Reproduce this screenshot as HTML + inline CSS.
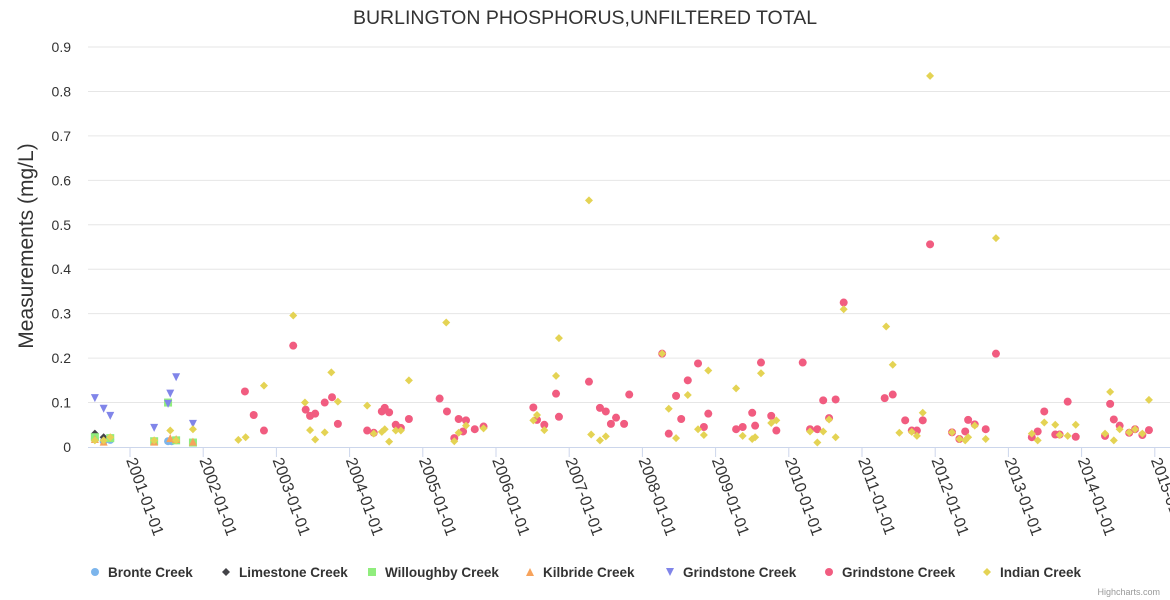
<!DOCTYPE html>
<html><head><meta charset="utf-8"><style>
html,body{margin:0;padding:0;background:#fff;}
svg{display:block;font-family:"Liberation Sans",sans-serif;}
</style></head><body>
<svg id="chart" width="1170" height="600" xmlns="http://www.w3.org/2000/svg">
<text x="585" y="24" text-anchor="middle" font-size="19.5" fill="#333">BURLINGTON PHOSPHORUS,UNFILTERED TOTAL</text>
<text transform="translate(33,246) rotate(-90)" text-anchor="middle" font-size="21" fill="#333">Measurements (mg/L)</text>
<g id="grid"></g><g id="xaxis"></g><g id="marks"></g><g id="legend"></g>
<text x="1160" y="595" text-anchor="end" font-size="9" fill="#999">Highcharts.com</text>
</svg>
<script>
const yTicks=[0,0.1,0.2,0.3,0.4,0.5,0.6,0.7,0.8,0.9];
const yTickLabels=["0","0.1","0.2","0.3","0.4","0.5","0.6","0.7","0.8","0.9"];
const xTickYears=[2001,2002,2003,2004,2005,2006,2007,2008,2009,2010,2011,2012,2013,2014,2015];
const xTickLabels=["2001-01-01","2002-01-01","2003-01-01","2004-01-01","2005-01-01","2006-01-01","2007-01-01","2008-01-01","2009-01-01","2010-01-01","2011-01-01","2012-01-01","2013-01-01","2014-01-01","2015-01-01"];
const seriesNames=["Bronte Creek","Limestone Creek","Willoughby Creek","Kilbride Creek","Grindstone Creek","Grindstone Creek","Indian Creek"];
const bronte=[[2000.52,0.018],[2000.64,0.013],[2000.73,0.016],[2001.52,0.013],[2001.57,0.013]];
const limestone=[[2000.52,0.03],[2000.64,0.022]];
const willoughby=[[2000.52,0.022],[2000.73,0.02],[2001.33,0.013],[2001.52,0.1],[2001.63,0.015],[2001.86,0.01]];
const kilbride=[[2000.52,0.018],[2000.64,0.012],[2001.33,0.012],[2001.55,0.02],[2001.63,0.018],[2001.86,0.012]];
const grindTri=[[2000.52,0.11],[2000.64,0.086],[2000.73,0.07],[2001.33,0.043],[2001.52,0.097],[2001.55,0.12],[2001.63,0.157],[2001.86,0.052]];
const grindCircle=[[2002.57,0.125],[2002.69,0.072],[2002.83,0.037],[2003.23,0.228],[2003.40,0.084],[2003.46,0.07],[2003.53,0.075],[2003.66,0.1],[2003.76,0.112],[2003.84,0.052],[2004.24,0.037],[2004.33,0.032],[2004.44,0.08],[2004.48,0.088],[2004.54,0.078],[2004.63,0.05],[2004.70,0.043],[2004.81,0.063],[2005.23,0.109],[2005.33,0.08],[2005.43,0.02],[2005.49,0.063],[2005.55,0.035],[2005.59,0.06],[2005.71,0.04],[2005.83,0.046],[2006.51,0.089],[2006.56,0.061],[2006.66,0.05],[2006.82,0.12],[2006.86,0.068],[2007.27,0.147],[2007.42,0.088],[2007.50,0.08],[2007.57,0.052],[2007.64,0.066],[2007.75,0.052],[2007.82,0.118],[2008.27,0.21],[2008.36,0.03],[2008.46,0.115],[2008.53,0.063],[2008.62,0.15],[2008.76,0.188],[2008.84,0.045],[2008.90,0.075],[2009.28,0.04],[2009.37,0.045],[2009.50,0.077],[2009.54,0.048],[2009.62,0.19],[2009.76,0.07],[2009.83,0.037],[2010.19,0.19],[2010.29,0.04],[2010.39,0.04],[2010.47,0.105],[2010.55,0.065],[2010.64,0.107],[2010.75,0.325],[2011.31,0.11],[2011.42,0.118],[2011.59,0.06],[2011.68,0.037],[2011.75,0.037],[2011.83,0.06],[2011.93,0.456],[2012.23,0.033],[2012.33,0.018],[2012.41,0.035],[2012.45,0.061],[2012.54,0.051],[2012.69,0.04],[2012.83,0.21],[2013.32,0.022],[2013.40,0.035],[2013.49,0.08],[2013.64,0.028],[2013.70,0.028],[2013.81,0.102],[2013.92,0.023],[2014.32,0.025],[2014.39,0.097],[2014.44,0.062],[2014.52,0.048],[2014.65,0.032],[2014.73,0.04],[2014.83,0.027],[2014.92,0.038]];
const indian=[[2000.52,0.015],[2000.64,0.015],[2000.73,0.022],[2001.33,0.015],[2001.55,0.037],[2001.63,0.015],[2001.86,0.04],[2002.48,0.016],[2002.58,0.022],[2002.83,0.138],[2003.23,0.296],[2003.39,0.1],[2003.46,0.038],[2003.53,0.017],[2003.66,0.033],[2003.75,0.168],[2003.84,0.102],[2004.24,0.093],[2004.33,0.03],[2004.44,0.034],[2004.48,0.04],[2004.54,0.012],[2004.63,0.037],[2004.70,0.037],[2004.81,0.15],[2005.32,0.28],[2005.43,0.013],[2005.49,0.032],[2005.59,0.048],[2005.83,0.042],[2006.51,0.06],[2006.56,0.072],[2006.66,0.038],[2006.82,0.16],[2006.86,0.245],[2007.27,0.555],[2007.30,0.028],[2007.42,0.015],[2007.50,0.024],[2008.27,0.21],[2008.36,0.086],[2008.46,0.02],[2008.62,0.117],[2008.76,0.04],[2008.84,0.027],[2008.90,0.172],[2009.28,0.132],[2009.37,0.025],[2009.50,0.018],[2009.54,0.022],[2009.62,0.166],[2009.76,0.054],[2009.83,0.06],[2010.29,0.035],[2010.39,0.01],[2010.47,0.035],[2010.55,0.062],[2010.64,0.022],[2010.75,0.31],[2011.33,0.271],[2011.42,0.185],[2011.51,0.032],[2011.68,0.034],[2011.75,0.025],[2011.83,0.077],[2011.93,0.835],[2012.23,0.033],[2012.33,0.018],[2012.41,0.015],[2012.45,0.022],[2012.54,0.048],[2012.69,0.018],[2012.83,0.47],[2013.32,0.03],[2013.40,0.015],[2013.49,0.055],[2013.64,0.05],[2013.70,0.027],[2013.81,0.025],[2013.92,0.05],[2014.32,0.03],[2014.39,0.124],[2014.44,0.015],[2014.52,0.04],[2014.65,0.033],[2014.73,0.04],[2014.83,0.03],[2014.92,0.106]];

const NS="http://www.w3.org/2000/svg";
const X0=88,X1=1170,Y0=447,Y1=47;
function xs(yr){return 130+(yr-2001)*73.2;}
function ys(v){return Y0-v/0.9*(Y0-Y1);}
function mk(tag,attrs,parent){const e=document.createElementNS(NS,tag);for(const k in attrs)e.setAttribute(k,attrs[k]);parent.appendChild(e);return e;}
const grid=document.getElementById('grid'),xa=document.getElementById('xaxis'),marks=document.getElementById('marks'),leg=document.getElementById('legend');
yTicks.forEach((v,i)=>{
  if(i>0){const l=mk('line',{x1:X0,x2:X1,y1:ys(v),y2:ys(v),stroke:'#e6e6e6','stroke-width':1},grid);
  
  }
  const t=mk('text',{x:71,y:ys(v)+5,'text-anchor':'end','font-size':14,fill:'#333'},grid);
  t.textContent=yTickLabels[i];
  
  
});
const axl=mk('line',{x1:X0,x2:X1,y1:Y0+0.5,y2:Y0+0.5,stroke:'#ccd6eb','stroke-width':1},xa);


xTickYears.forEach((yr,i)=>{
  const x=xs(yr);
  const tk=mk('line',{x1:x,x2:x,y1:Y0,y2:Y0+10,stroke:'#ccd6eb'},xa);
  
  
  const t=mk('text',{transform:`translate(${x-4},${Y0+13}) rotate(70)`,'font-size':16,fill:'#333'},xa);
  t.textContent=xTickLabels[i];
  
  
});
function shape(kind,cx,cy,color,parent,r){
  r=r||4;let e;
  if(kind==='circle')e=mk('circle',{cx:cx,cy:cy,r:r,fill:color},parent);
  else if(kind==='diamond')e=mk('path',{d:`M${cx} ${cy-r}L${cx+r} ${cy}L${cx} ${cy+r}L${cx-r} ${cy}Z`,fill:color},parent);
  else if(kind==='square')e=mk('rect',{x:cx-r,y:cy-r,width:2*r,height:2*r,fill:color},parent);
  else if(kind==='tri')e=mk('path',{d:`M${cx} ${cy-r}L${cx+r} ${cy+r}L${cx-r} ${cy+r}Z`,fill:color},parent);
  else e=mk('path',{d:`M${cx-r} ${cy-r}L${cx+r} ${cy-r}L${cx} ${cy+r}Z`,fill:color},parent);
  return e;
}
const defs=[[bronte,'circle','#7cb5ec','bronte-point'],[limestone,'diamond','#434348','limestone-point'],[willoughby,'square','#90ed7d','willoughby-point'],[kilbride,'tri','#f7a35c','kilbride-point'],[grindTri,'tridown','#8085e9','grindstone-triangle-point'],[grindCircle,'circle','#f15c80','grindstone-circle-point'],[indian,'diamond','#e4d354','indian-point']];
defs.forEach(d=>{
  const g=mk('g',{},marks);
  d[0].forEach(p=>{
    const e=shape(d[1],xs(p[0]),ys(p[1]),d[2],g);
    
    
  });
});
const legX=[95,226,372,530,670,829,987];
defs.forEach((d,i)=>{
  const g=mk('g',{},leg);
  
  
  shape(d[1],legX[i],572,d[2],g);
  const t=mk('text',{x:legX[i]+13,y:577,'font-size':13.5,'font-weight':'bold',fill:'#333'},g);
  t.textContent=seriesNames[i];
});
</script>
</body></html>
